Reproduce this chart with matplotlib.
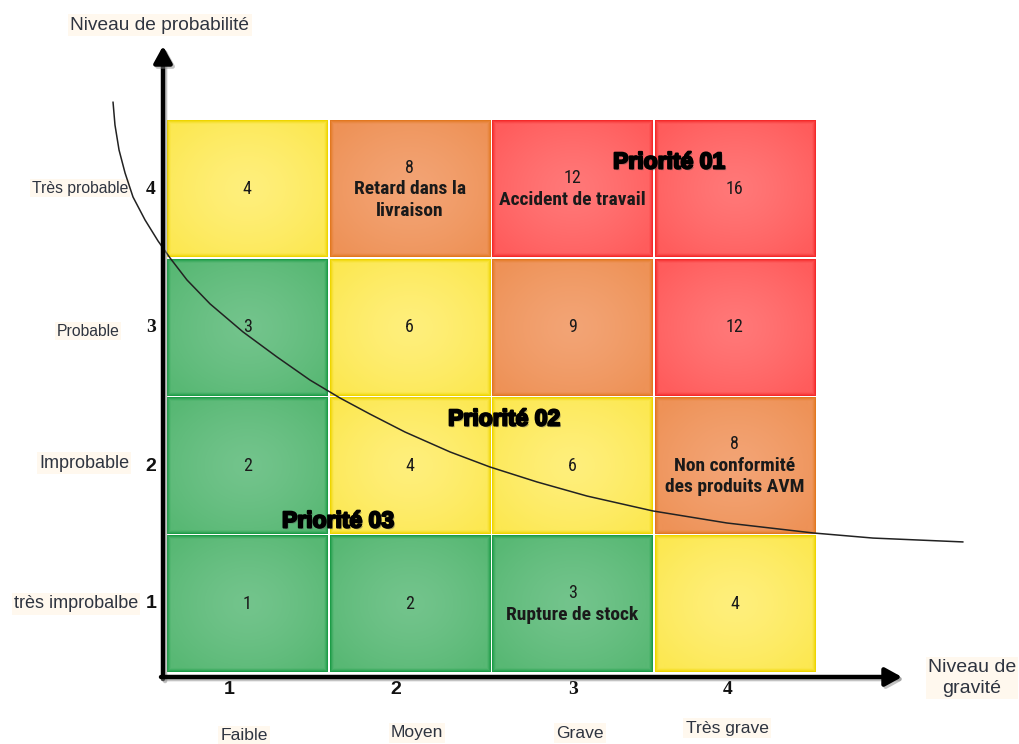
import numpy as np
import matplotlib
matplotlib.use("Agg")
import matplotlib.pyplot as plt
from matplotlib import font_manager
from matplotlib import patheffects as pe
from matplotlib.colors import to_rgb

# ---------------------------------------------------------------- data
gravity = [1, 2, 3, 4]
probability = [1, 2, 3, 4]
gravity_ticks = ["1", "2", "3", "4"]
probability_ticks = ["1", "2", "3", "4"]
gravity_names = ["Faible", "Moyen", "Grave", "Très grave"]
probability_names = ["très improbalbe", "Improbable", "Probable", "Très probable"]

# risk zone of every cell, rows = probability 1..4, columns = gravity 1..4
zones = [
    ["G", "G", "G", "Y"],
    ["G", "Y", "Y", "O"],
    ["G", "Y", "O", "R"],
    ["Y", "O", "R", "R"],
]

# identified risks: (gravity, probability) -> description
risk_gravity = [2, 3, 4, 3]
risk_probability = [4, 4, 2, 1]
risk_names = ["Retard dans la\nlivraison", "Accident de travail",
              "Non conformité\ndes produits AVM", "Rupture de stock"]

priority_names = ["Priorité 01", "Priorité 02", "Priorité 03"]

# acceptability curve (gravity, probability)
curve_g = [0.174, 0.186, 0.211, 0.248, 0.297, 0.371, 0.451, 0.525, 0.629,
           0.771, 0.974, 1.183, 1.386, 1.571, 1.755, 1.971, 2.248, 2.494,
           2.783, 3.091, 3.497, 3.952, 4.482, 4.851, 5.405]
curve_p = [4.630, 4.464, 4.283, 4.117, 3.943, 3.777, 3.625, 3.502, 3.343,
           3.170, 2.967, 2.786, 2.619, 2.489, 2.373, 2.243, 2.099, 1.990,
           1.882, 1.780, 1.672, 1.585, 1.513, 1.476, 1.448]

# ---------------------------------------------------------------- fonts
available = {f.name for f in font_manager.fontManager.ttflist}


def pick(*names):
    for n in names:
        if n in available:
            return n
    return "DejaVu Sans"


NARROW = pick("Liberation Sans Narrow", "Roboto Condensed", "Liberation Sans")
SANS = pick("Liberation Sans", "Arial", "DejaVu Sans")
SERIF = pick("Liberation Serif", "DejaVu Serif")

# ---------------------------------------------------------------- palette
palette = {
    "Y": ("#FFEF7C", "#FCE852", "#EED500"),
    "O": ("#F3A475", "#EE9257", "#E27820"),
    "R": ("#FF7878", "#FF5C5C", "#F42A2A"),
    "G": ("#73C48C", "#58B874", "#1C9C47"),
}

W, H = 1019, 744
fig = plt.figure(figsize=(W / 100, H / 100), dpi=100)
fig.patch.set_facecolor("white")
ax = fig.add_axes([0, 0, 1, 1])
ax.set_axis_off()

# grid geometry (pixel frame of the 4x4 matrix)
GX0, GX1, GY0, GY1 = 166.0, 816.0, 120.0, 673.0
ux = (GX1 - GX0) / 4.0
uy = (GY1 - GY0) / 4.0
XLIM = (0.5 - GX0 / ux, 0.5 + (W - GX0) / ux)
YLIM = (0.5 - (H - GY1) / uy, 0.5 + GY1 / uy)


def P(px, py):
    """pixel position -> data position"""
    return 0.5 + (px - GX0) / ux, 0.5 + (GY1 - py) / uy


def cell_image(code, w=162, h=137):
    c0, c1, b = (np.array(to_rgb(c)) for c in palette[code])
    yy, xx = np.mgrid[0:h, 0:w]
    u = (xx - (w - 1) / 2) / ((w - 1) / 2)
    v = (yy - (h - 1) / 2) / ((h - 1) / 2)
    r = np.clip(np.sqrt(u ** 2 + v ** 2) / 1.25, 0, 1) ** 1.3
    img = c0 + (c1 - c0) * r[..., None]
    d = np.minimum.reduce([xx, w - 1 - xx, yy, h - 1 - yy]).astype(float)
    t = np.clip(1 - d / 4.0, 0, 1)[..., None] ** 1.5
    img = img * (1 - t) + b * t
    return np.clip(img, 0, 1)


gx = 1.0 / ux
gy = 1.0 / uy
for i, p in enumerate(probability):
    for j, g in enumerate(gravity):
        ax.imshow(cell_image(zones[i][j]),
                  extent=[g - 0.5 + gx, g + 0.5 - gx, p - 0.5 + gy, p + 0.5 - gy],
                  interpolation="bilinear", zorder=1)

ax.set_aspect("auto")
ax.set_xlim(*XLIM)
ax.set_ylim(*YLIM)

# cell scores and risk descriptions
pitch = 21.5 / uy
for i, p in enumerate(probability):
    for j, g in enumerate(gravity):
        score = p * g
        name = None
        for rg, rp, rn in zip(risk_gravity, risk_probability, risk_names):
            if rg == g and rp == p:
                name = rn
        lines = [str(score)] + (name.split("\n") if name else [])
        n = len(lines)
        for k, line in enumerate(lines):
            yk = p + ((n - 1) / 2 - k) * pitch
            ax.text(g, yk, line, ha="center", va="center", zorder=5,
                    family=NARROW, color="#1a1a1a",
                    fontsize=13 if k == 0 else 14,
                    fontweight="normal" if k == 0 else "bold")

# acceptability curve
ax.plot(curve_g, curve_p, color="#222222", lw=1.1, zorder=6,
        solid_capstyle="round", solid_joinstyle="round", clip_on=False)

# priority labels
prio_fx = [pe.SimplePatchShadow(offset=(1.2, -1.2), shadow_rgbFace="#555555", alpha=0.45),
           pe.Stroke(linewidth=1.5, foreground="black"), pe.Normal()]
for name, (px, py) in zip(priority_names, [(669, 162), (504, 419), (338, 521)]):
    x, y = P(px, py)
    ax.text(x, y, name, ha="center", va="center", family=SANS,
            fontweight="bold", fontsize=16.5, color="black", zorder=8,
            path_effects=prio_fx)

# axes with arrow heads
ax_fx = [pe.SimpleLineShadow(offset=(1.5, -1.5), shadow_color="#888888", alpha=0.5),
         pe.Normal()]
ox, oy = P(163, 677)
ax.annotate("", xy=P(163, 46), xytext=(ox, oy - 2 / uy),
            arrowprops=dict(arrowstyle="-|>,head_width=0.55,head_length=1.0",
                            lw=3.2, color="black", mutation_scale=10,
                            shrinkA=0, shrinkB=0, path_effects=ax_fx),
            zorder=9, annotation_clip=False)
ax.annotate("", xy=P(902, 677), xytext=(ox - 2 / ux, oy),
            arrowprops=dict(arrowstyle="-|>,head_width=0.55,head_length=1.0",
                            lw=3.2, color="black", mutation_scale=10,
                            shrinkA=0, shrinkB=0, path_effects=ax_fx),
            zorder=9, annotation_clip=False)

# tick numbers
tick_fonts = {"1": SANS, "2": SANS, "3": SERIF, "4": SERIF}
for lab, py in zip(probability_ticks, [604, 466, 327, 189]):
    x, y = P(151, py)
    ax.text(x, y, lab, ha="center", va="center", family=tick_fonts[lab],
            fontweight="bold", fontsize=14, color="#111111")
for lab, px in zip(gravity_ticks, [229, 396, 573, 728]):
    x, y = P(px, 689)
    ax.text(x, y, lab, ha="center", va="center", family=tick_fonts[lab],
            fontweight="bold", fontsize=14, color="#111111")

# category names
box = dict(boxstyle="square,pad=0.12", fc="#FFF8EE", ec="none")
txt_col = "#2E3440"
y_name_pos = [(138, 604, 13, "right"), (84, 463, 13, "center"),
              (88, 331, 11.3, "center"), (128, 188, 11.3, "right")]
for name, (px, py, fs, ha) in zip(probability_names, y_name_pos):
    x, y = P(px, py)
    ax.text(x, y, name, ha=ha, va="center", family=SANS, fontsize=fs,
            color=txt_col, bbox=box)
for name, (px, py) in zip(gravity_names, [(244, 736), (417, 733), (580, 733), (727, 728)]):
    x, y = P(px, py)
    ax.text(x, y, name, ha="center", va="center", family=SANS, fontsize=12.6,
            color=txt_col, bbox=box)

x, y = P(160, 25)
ax.text(x, y, "Niveau de probabilité", ha="center", va="center", family=SANS,
        fontsize=13.8, color=txt_col, bbox=box)
x, y = P(972, 678)
ax.text(x, y, "Niveau de\ngravité", ha="center", va="center", family=SANS,
        fontsize=14, color=txt_col, bbox=box, linespacing=1.25)

fig.savefig("out.png", dpi=100, facecolor="white")
